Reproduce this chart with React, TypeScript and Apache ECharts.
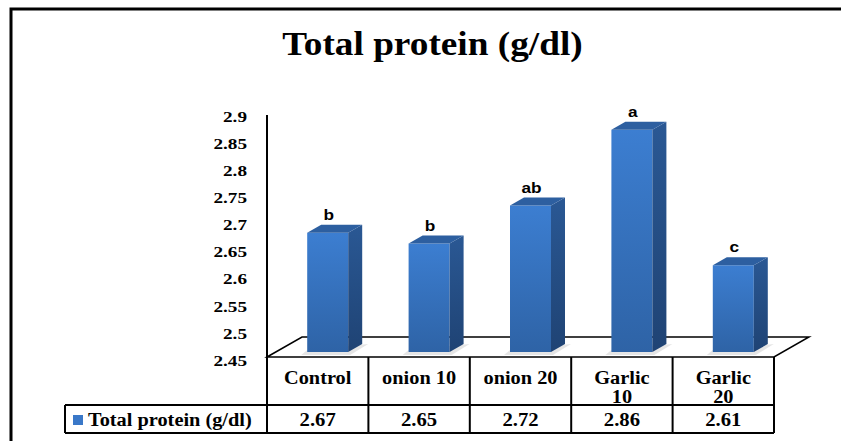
import React, { useEffect, useRef } from "react";
import * as echarts from "echarts";

// ---- data ----
const chartTitle = "Total protein (g/dl)";
const seriesName = "Total protein (g/dl)";
const categories = ["Control", "onion 10", "onion 20", "Garlic 10", "Garlic 20"];
const categoryLabels = ["Control", "onion 10", "onion 20", "Garlic\n10", "Garlic\n20"];
const values = [2.67, 2.65, 2.72, 2.86, 2.61];
const letters = ["b", "b", "ab", "a", "c"];
const yTickValues = [2.45, 2.5, 2.55, 2.6, 2.65, 2.7, 2.75, 2.8, 2.85, 2.9];
const yTickLabels = ["2.45", "2.5", "2.55", "2.6", "2.65", "2.7", "2.75", "2.8", "2.85", "2.9"];
const yMin = 2.45;
const yMax = 2.9;
const yStep = 0.05;

// ---- layout ----
const W = 841;
const H = 441;
const GRID_LEFT = 267;
const GRID_RIGHT = 774;
const GRID_TOP = 117;
const GRID_BOTTOM = 361;
const AXIS_TOP = 115;
const FLOOR_FRONT = 357;
const FLOOR_BACK = 337;
const FLOOR_DX = 35;
const ROW_LINE = 405;
const TABLE_BOTTOM = 433;
const LEGEND_LEFT = 65;
const BAR_DX = 10;
const BAR_DY = -9;
const BAR_HALF = 20.5;
const DEPTH_X = 14;
const DEPTH_Y = -8;
const VALUE_ROW_OFFSET = 59;
const CAT_ROW_OFFSET = 7;
const Y_LABEL_GAP = 20;

const SERIF = "Liberation Serif";
const SANS = "Liberation Sans";
const BAR_COLOR = "#3a78c8";

export default function App() {
  const ref = useRef<HTMLDivElement>(null);

  useEffect(() => {
    if (!ref.current) return;
    const chart = echarts.init(ref.current, undefined, { renderer: "svg" });

    const colW = (GRID_RIGHT - GRID_LEFT) / categories.length;
    const tableLines: any[] = [];
    for (let k = 0; k <= categories.length; k++) {
      const x = GRID_LEFT + k * colW;
      tableLines.push({
        type: "line",
        z: 1,
        shape: { x1: x, y1: k === 0 ? AXIS_TOP : FLOOR_FRONT, x2: x, y2: TABLE_BOTTOM },
        style: { stroke: "#000", lineWidth: 2 },
      });
    }
    tableLines.push(
      { type: "line", z: 1, shape: { x1: LEGEND_LEFT, y1: ROW_LINE, x2: GRID_RIGHT, y2: ROW_LINE }, style: { stroke: "#000", lineWidth: 2 } },
      { type: "line", z: 1, shape: { x1: LEGEND_LEFT, y1: TABLE_BOTTOM, x2: GRID_RIGHT, y2: TABLE_BOTTOM }, style: { stroke: "#000", lineWidth: 2 } },
      { type: "line", z: 1, shape: { x1: LEGEND_LEFT, y1: ROW_LINE, x2: LEGEND_LEFT, y2: TABLE_BOTTOM }, style: { stroke: "#000", lineWidth: 2 } }
    );

    const serifText = (text: string, x: number, y: number, size: number, sx: number, align: string, valign: string, lh?: number) => ({
      type: "text",
      x,
      y,
      scaleX: sx,
      style: {
        text,
        align,
        verticalAlign: valign,
        fontFamily: SERIF,
        fontWeight: "bold",
        fontSize: size,
        lineHeight: lh,
        fill: "#000",
      },
    });

    const option: any = {
      animation: false,
      backgroundColor: "#fff",
      textStyle: { fontFamily: SERIF },
      grid: {
        left: GRID_LEFT,
        right: W - GRID_RIGHT,
        top: GRID_TOP,
        bottom: H - GRID_BOTTOM,
      },
      xAxis: {
        type: "category",
        data: categories,
        axisLine: { show: false },
        axisTick: { show: false },
        splitLine: { show: false },
        axisLabel: { show: false },
      },
      yAxis: {
        type: "value",
        min: yMin,
        max: yMax,
        interval: yStep,
        axisLine: { show: false },
        axisTick: { show: false },
        splitLine: { show: false },
        axisLabel: { show: false },
      },
      graphic: [
        {
          type: "rect",
          z: 0,
          shape: { x: 11, y: 9, width: 900, height: 500 },
          style: { fill: "none", stroke: "#000", lineWidth: 3 },
        },
        {
          type: "text",
          z: 10,
          x: 432.5,
          y: 28,
          scaleX: 1.13,
          style: {
            text: chartTitle,
            align: "center",
            verticalAlign: "top",
            fontFamily: SERIF,
            fontWeight: "bold",
            fontSize: 33,
            fill: "#000",
          },
        },
        {
          type: "rect",
          z: 10,
          shape: { x: 73, y: 415, width: 10, height: 10 },
          style: { fill: BAR_COLOR },
        },
        {
          type: "text",
          z: 10,
          x: 88,
          y: 420,
          scaleX: 1.13,
          style: {
            text: seriesName,
            align: "left",
            verticalAlign: "middle",
            fontFamily: SERIF,
            fontWeight: "bold",
            fontSize: 18,
            fill: "#000",
          },
        },
        {
          type: "polygon",
          z: 0,
          shape: {
            points: [
              [GRID_LEFT, FLOOR_FRONT],
              [GRID_LEFT + FLOOR_DX, FLOOR_BACK],
              [GRID_RIGHT + FLOOR_DX, FLOOR_BACK],
              [GRID_RIGHT, FLOOR_FRONT],
            ],
          },
          style: { fill: "#fff", stroke: "#000", lineWidth: 1.5 },
        },
        ...tableLines,
      ],
      series: [
        {
          type: "custom",
          name: "y tick labels",
          silent: true,
          clip: false,
          data: yTickValues.map((v, i) => [0, v, i]),
          renderItem: (params: any, api: any) => {
            const v = api.value(1);
            const idx = api.value(2);
            const p = api.coord([0, v]);
            return serifText(yTickLabels[idx], GRID_LEFT - Y_LABEL_GAP, p[1], 15, 1.28, "right", "middle");
          },
        },
        {
          type: "custom",
          name: seriesName,
          z: 5,
          clip: false,
          itemStyle: { color: BAR_COLOR },
          data: values.map((v, i) => [i, v]),
          renderItem: (params: any, api: any) => {
            const i = api.value(0);
            const v = api.value(1);
            const top = api.coord([i, v]);
            const base = api.coord([i, yMin]);
            const cx = top[0] + BAR_DX;
            const x0 = cx - BAR_HALF;
            const x1 = cx + BAR_HALF;
            const yT = top[1] + BAR_DY;
            const yB = base[1] + BAR_DY;
            return {
              type: "group",
              children: [
                {
                  type: "polygon",
                  shape: {
                    points: [
                      [x0 - 6, yB + 3],
                      [x1 + 2, yB + 3],
                      [x1 + DEPTH_X + 6, yB + DEPTH_Y],
                      [x0, yB - 2],
                    ],
                  },
                  style: { fill: "rgba(0,0,0,0.10)" },
                },
                {
                  type: "rect",
                  shape: { x: x0, y: yT, width: x1 - x0, height: yB - yT },
                  style: {
                    fill: new echarts.graphic.LinearGradient(0, 0, 0, 1, [
                      { offset: 0, color: "#3c7ed1" },
                      { offset: 1, color: "#2e63a6" },
                    ]),
                  },
                },
                {
                  type: "polygon",
                  shape: {
                    points: [
                      [x1, yT],
                      [x1 + DEPTH_X, yT + DEPTH_Y],
                      [x1 + DEPTH_X, yB + DEPTH_Y],
                      [x1, yB],
                    ],
                  },
                  style: {
                    fill: new echarts.graphic.LinearGradient(0, 0, 0, 1, [
                      { offset: 0, color: "#2a5894" },
                      { offset: 1, color: "#1f4374" },
                    ]),
                  },
                },
                {
                  type: "polygon",
                  shape: {
                    points: [
                      [x0, yT],
                      [x0 + DEPTH_X, yT + DEPTH_Y],
                      [x1 + DEPTH_X, yT + DEPTH_Y],
                      [x1, yT],
                    ],
                  },
                  style: { fill: "#2d5fa0" },
                },
                {
                  type: "text",
                  x: cx + 1,
                  y: yT + DEPTH_Y - 3,
                  scaleX: 1.15,
                  style: {
                    text: letters[i],
                    align: "center",
                    verticalAlign: "bottom",
                    fontFamily: SANS,
                    fontWeight: "bold",
                    fontSize: 15,
                    fill: "#000",
                  },
                },
                serifText(categoryLabels[i], top[0], base[1] + CAT_ROW_OFFSET, 18, 1.13, "center", "top", 19),
                serifText(values[i].toFixed(2), top[0], base[1] + VALUE_ROW_OFFSET, 18, 1.15, "center", "middle"),
              ],
            };
          },
        },
      ],
    };

    chart.setOption(option);
    return () => chart.dispose();
  }, []);

  return (
    <div
      ref={ref}
      style={{ position: "fixed", left: 0, top: 0, width: W, height: H, background: "#fff" }}
    />
  );
}
